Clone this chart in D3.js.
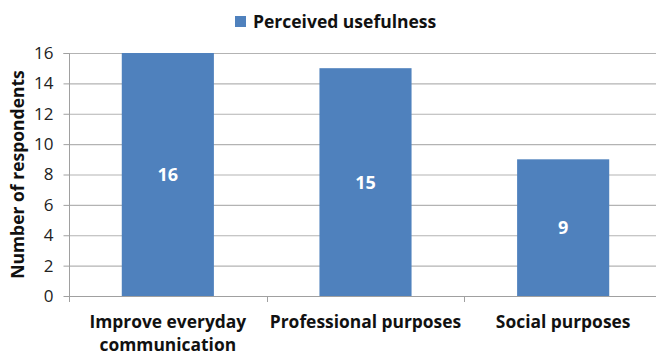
<!DOCTYPE html>
<html>
<head>
<meta charset="utf-8">
<script src="https://cdn.jsdelivr.net/npm/d3@7"></script>
<style>
  body { margin: 0; background: #fff; }
  text { font-family: "Open Sans", "Noto Sans", sans-serif; }
</style>
</head>
<body>
<div id="chart"></div>
<script>
var categories = [["Improve everyday", "communication"], ["Professional purposes"], ["Social purposes"]];
var values = [16, 15, 9];
var yTicks = [0, 2, 4, 6, 8, 10, 12, 14, 16];
var seriesName = "Perceived usefulness";

var svgWidth = 656;
var svgHeight = 356;

var margin = { top: 53, right: -6, bottom: 60, left: 69 };

var chartWidth = svgWidth - margin.left - margin.right;
var chartHeight = svgHeight - margin.top - margin.bottom;

var barColor = "#4f81bd";

var svg = d3.select("#chart")
    .append("svg")
    .attr("width", svgWidth)
    .attr("height", svgHeight);

var chartGroup = svg.append("g")
    .attr("transform", `translate(${margin.left}, ${margin.top})`);

var xScale = d3.scaleBand()
    .domain(d3.range(categories.length))
    .range([0, chartWidth])
    .paddingInner(0.534)
    .paddingOuter(0.267);

var bandStep = chartWidth / categories.length;

var yScale = d3.scaleLinear()
    .domain([0, 16])
    .range([chartHeight, 0]);

// gridlines
chartGroup.append("g")
    .selectAll("line")
    .data(yTicks.filter(d => d > 0))
    .enter()
    .append("line")
    .attr("x1", 0)
    .attr("x2", chartWidth)
    .attr("y1", d => yScale(d) + 0.5)
    .attr("y2", d => yScale(d) + 0.5)
    .attr("stroke", "#b3b3b3")
    .attr("stroke-width", 1.2);

// y axis
var leftAxis = d3.axisLeft(yScale)
    .tickValues(yTicks)
    .tickSize(6)
    .tickPadding(10);

var yAxis = chartGroup.append("g")
    .attr("transform", "translate(0.5, 0)")
    .call(leftAxis);
yAxis.select(".domain").attr("stroke", "#a0a0a0").attr("d", `M-6,0.5H0V${chartHeight}`);
yAxis.selectAll(".tick line").attr("stroke", "#a0a0a0");
yAxis.selectAll(".tick text")
    .attr("font-size", 17)
    .attr("fill", "#222")
    .style("font-family", "'Open Sans', sans-serif");

// bars
chartGroup.selectAll("rect.bar")
    .data(values)
    .enter()
    .append("rect")
    .attr("class", "bar")
    .attr("x", (d, i) => xScale(i))
    .attr("y", d => yScale(d))
    .attr("width", xScale.bandwidth())
    .attr("height", d => chartHeight - yScale(d))
    .attr("fill", barColor);

// x axis baseline and category ticks
chartGroup.append("line")
    .attr("x1", 0)
    .attr("x2", chartWidth)
    .attr("y1", chartHeight + 0.5)
    .attr("y2", chartHeight + 0.5)
    .attr("stroke", "#a0a0a0");

chartGroup.selectAll("line.ctick")
    .data(d3.range(categories.length + 1))
    .enter()
    .append("line")
    .attr("class", "ctick")
    .attr("x1", d => Math.round(d * bandStep) + 0.5)
    .attr("x2", d => Math.round(d * bandStep) + 0.5)
    .attr("y1", chartHeight)
    .attr("y2", chartHeight + 6)
    .attr("stroke", "#a0a0a0");

// value labels
chartGroup.selectAll("text.val")
    .data(values)
    .enter()
    .append("text")
    .attr("class", "val")
    .attr("x", (d, i) => xScale(i) + xScale.bandwidth() / 2)
    .attr("y", d => (yScale(d) + chartHeight) / 2)
    .attr("dy", "0.36em")
    .attr("text-anchor", "middle")
    .attr("font-size", 18)
    .attr("font-weight", "bold")
    .attr("fill", "#fff")
    .text(d => d);

// category labels
var catLabels = chartGroup.selectAll("text.cat")
    .data(categories)
    .enter()
    .append("text")
    .attr("class", "cat")
    .attr("x", (d, i) => xScale(i) + xScale.bandwidth() / 2)
    .attr("y", chartHeight + 32)
    .attr("text-anchor", "middle")
    .attr("font-size", 17.4)
    .attr("font-weight", "bold")
    .attr("fill", "#111");

catLabels.each(function(d, i) {
    var t = d3.select(this);
    d.forEach(function(line, j) {
        t.append("tspan")
            .attr("x", xScale(i) + xScale.bandwidth() / 2)
            .attr("dy", j === 0 ? 0 : 23)
            .text(line);
    });
});

// y axis title
svg.append("text")
    .attr("transform", "rotate(-90)")
    .attr("x", -(margin.top + chartHeight / 2))
    .attr("y", 24)
    .attr("text-anchor", "middle")
    .attr("font-size", 17.5)
    .attr("font-weight", "bold")
    .attr("fill", "#111")
    .text("Number of respondents");

// legend
var legend = svg.append("g");
legend.append("rect")
    .attr("x", 235)
    .attr("y", 16)
    .attr("width", 11)
    .attr("height", 11)
    .attr("fill", barColor);
legend.append("text")
    .attr("x", 253)
    .attr("y", 27.5)
    .attr("font-size", 17.5)
    .attr("font-weight", "bold")
    .attr("fill", "#111")
    .text(seriesName);
</script>
</body>
</html>
